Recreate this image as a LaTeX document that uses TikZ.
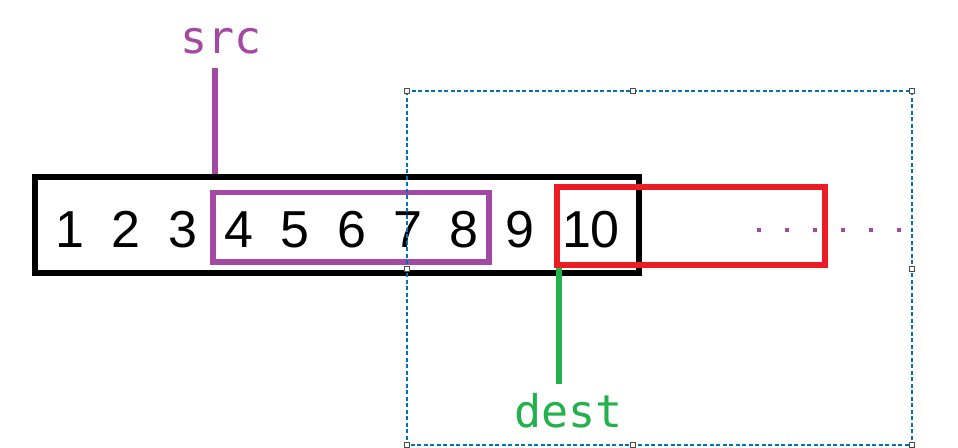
\documentclass[tikz,border=0pt]{standalone}
\usepackage{fontspec}
\setmainfont{Liberation Sans}
\newfontfamily\labelfont{DejaVu Sans Mono}
\usepackage{tikz}
\definecolor{paintpurple}{RGB}{163,73,164}
\definecolor{paintred}{RGB}{237,28,36}
\definecolor{paintgreen}{RGB}{34,177,76}
\definecolor{selblue}{RGB}{0,112,192}

\begin{document}
\begin{tikzpicture}[x=1pt,y=-1pt]
\tikzstyle{every node}+=[inner sep=0pt]
\tikzstyle{digit}=[font=\fontsize{52}{52}\selectfont, anchor=base]
\tikzstyle{label}=[font=\labelfont\fontsize{45}{45}\selectfont, anchor=base]
\tikzstyle{handle}=[draw=black!70, fill=white, line width=1pt, minimum size=5pt]
\useasboundingbox (0,0) rectangle (958,447);
\foreach \n in {1,...,9}
  \node [digit] (n\n) at ({70+(\n-1)*56.3},247) {\n};
\node [digit] (n10) at (591,247) {10};
\node [draw, black, line width=6pt, minimum width=604pt, minimum height=96pt] (arr) at (337,225) {};
\node [draw, paintpurple, line width=5.5pt, minimum width=276pt, minimum height=69.5pt] (srcbox) at (351,227.25) {};
\node [draw, paintred, line width=6pt, minimum width=268pt, minimum height=78pt] (destbox) at (691,226) {};
\foreach \k in {0,...,5}
  \fill [paintpurple] ({757+28*\k},228) rectangle +(4,4);
\node [label, paintpurple] (src) at (221,53) {src};
\coordinate (srctop) at (215,68);
\draw [paintpurple, line width=6pt] (srctop) -- (srctop |- arr.north);
\node [label, paintgreen] (dest) at (568.5,427) {dest};
\coordinate (destend) at (559,384);
\draw [paintgreen, line width=6pt] (destend |- destbox.south) -- (destend);
\draw [selblue, dash pattern=on 4pt off 2.5pt, line width=1.3pt] (407,91) rectangle (912,445);
\foreach \hx/\hy in {407/91, 633/91, 912/91, 407/269, 912/269, 407/445, 633/445, 912/445}
  \node [handle] at (\hx,\hy) {};
\end{tikzpicture}
\end{document}
